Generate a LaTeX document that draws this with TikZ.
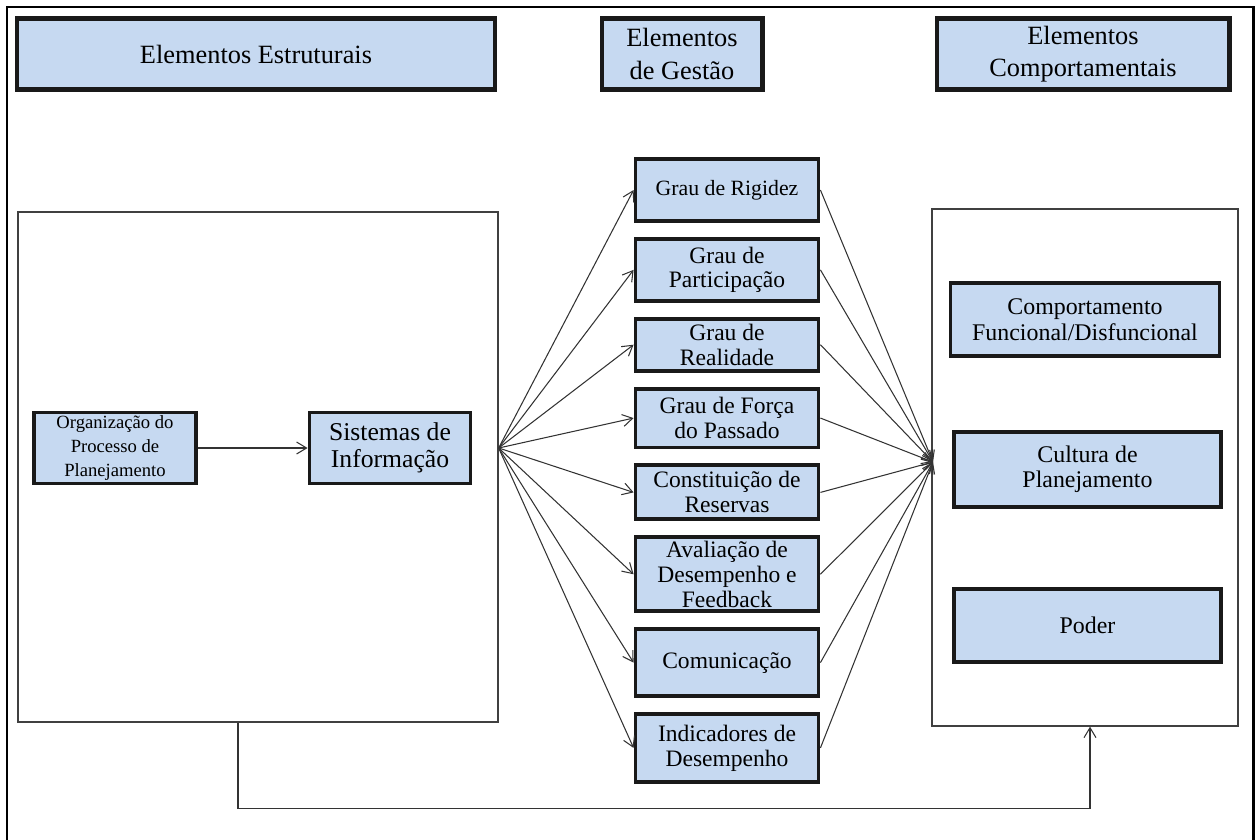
\documentclass[tikz,border=0pt]{standalone}
\usepackage{fontspec}
\setmainfont{Liberation Serif}
\usetikzlibrary{arrows.meta,positioning}
\definecolor{boxblue}{HTML}{C6D9F1}

\begin{document}
\begin{tikzpicture}[
  x=0.02cm,y=-0.02cm,
  node distance=0.28cm,
  head/.style={rectangle,draw=black!90,line width=2.3pt,fill=boxblue,
               font=\fontsize{15}{18.5}\selectfont,align=center,minimum height=1.42cm},
  item/.style={rectangle,draw=black!90,line width=2.2pt,fill=boxblue,
               font=\fontsize{13.4}{14.2}\selectfont,align=center,
               minimum width=3.66cm,inner sep=1pt},
  panel/.style={rectangle,draw=black!75,line width=0.8pt,inner sep=0pt},
  arr/.style={-{Straight Barb[length=2mm,width=2.4mm]},draw=black!80,line width=0.6pt}
]
  \useasboundingbox (0,0) rectangle (1260,839);
  \draw[line width=1.7pt] (7,860) -- (7,7) -- (1253,7) -- (1253,860);

  \node[head,minimum width=9.58cm] (estr) at (256,54) {Elementos Estruturais};
  \node[head,minimum width=3.22cm] (gest) at (682,54) {Elementos\\de Gestão};
  \node[head,minimum width=5.86cm] (comp) at (1083,54) {Elementos\\Comportamentais};

  \node[panel,minimum width=9.6cm,minimum height=10.2cm] (left) at (258,467) {};
  \node[panel,minimum width=6.12cm,minimum height=10.34cm] (rpanel) at (1085,467.5) {};

  \node[item,minimum width=3.24cm,minimum height=1.42cm,
        font=\fontsize{10.6}{13.5}\selectfont] (org) at (115,448) {Organização do\\Processo de\\Planejamento};
  \node[item,minimum width=3.22cm,minimum height=1.42cm,
        font=\fontsize{14.6}{15.5}\selectfont] (sis) at (390,448) {Sistemas de\\Informação};

  \node[item,minimum height=1.24cm,font=\fontsize{12.4}{14}\selectfont] (rig) at (727,190) {Grau de Rigidez};
  \node[item,below=of rig,minimum height=1.24cm] (part) {Grau de\\Participação};
  \node[item,below=of part,minimum height=1.04cm] (real) {Grau de\\Realidade};
  \node[item,below=of real,minimum height=1.18cm] (forca) {Grau de Força\\do Passado};
  \node[item,below=of forca,minimum height=1.08cm] (res) {Constituição de\\Reservas};
  \node[item,below=of res,minimum height=1.48cm] (aval) {Avaliação de\\Desempenho e\\Feedback};
  \node[item,below=of aval,minimum height=1.34cm] (com) {Comunicação};
  \node[item,below=of com,minimum height=1.36cm] (ind) {Indicadores de\\Desempenho};

  \node[item,minimum width=5.38cm,minimum height=1.46cm,font=\fontsize{13.6}{14.5}\selectfont] (funk) at (1085,319.5) {Comportamento\\Funcional/Disfuncional};
  \node[item,minimum width=5.34cm,minimum height=1.5cm,font=\fontsize{13.6}{14.5}\selectfont] (cult) at (1087.5,469.5) {Cultura de\\Planejamento};
  \node[item,minimum width=5.34cm,minimum height=1.46cm,font=\fontsize{13.6}{14.5}\selectfont] (poder) at (1087.5,625.5) {Poder};

  \coordinate (fan) at (left.east |- sis.east);
  \coordinate (sink) at (933,462);

  \draw[arr] (org) -- (sis);
  \foreach \n in {rig,part,real,forca,res,aval,com,ind} {
    \draw[arr] (fan) -- (\n.west);
    \draw[arr] (\n.east) -- (sink);
  }
  \draw[arr] ([xshift=-0.4cm]left.south) -- ++(0,86) -| ([xshift=0.1cm]rpanel.south);
\end{tikzpicture}
\end{document}
